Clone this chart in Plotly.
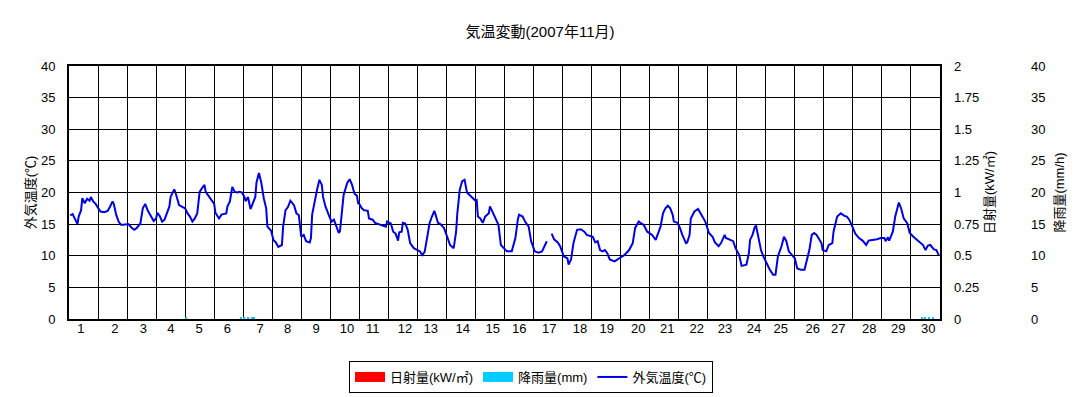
import plotly.graph_objects as go

# ---------------- data ----------------
title_text = "気温変動(2007年11月)"

# outdoor temperature, hour of month vs degC (None = missing)
temp_hours = [
    1, 3, 5, 7, 8, 10, 11, 13, 15, 17, 18, 20, 22, 26, 29, 32, 34, 36, 37, 39,
    41, 43, 45, 49, 52, 54, 56, 59, 61, 63, 65, 67, 70, 72, 73, 75, 77, 79, 81, 83,
    84, 87, 88, 90, 91, 94, 96, 98, 100, 102, 104, 106, 108, 110, 112, 113, 116, 118, 120, 121,
    124, 126, 128, 130, 131, 133, 135, 137, 139, 141, 143, 145, 146, 148, 150, 151, 154, 155, 157, 159,
    161, 163, 164, 167, 169, 171, 173, 176, 177, 179, 181, 183, 186, 188, 190, 192, 194, 196, 199, 200,
    201, 203, 205, 207, 209, 210, 212, 215, 217, 219, 221, 223, 224, 226, 227, 230, 232, 234, 236, 238,
    239, 240, 242, 244, 247, 248, 251, 253, 256, 259, 262, 263, 266, 268, 270, 272, 273, 275, 276, 278,
    280, 282, 285, 288, 290, 292, 294, 296, 298, 300, 302, 303, 305, 307, 310, 313, 315, 318, 320, 321,
    323, 325, 327, 329, 331, 333, 336, 337, 338, 340, 342, 344, 347, 348, 350, 353, 355, 357, 360, 362,
    366, 369, 371, 372, 375, 377, 380, 382, 385, 388, 391, 393, 395, 396, 399, 401, 404, 406, 409, 412,
    413, 415, 417, 420, 423, 426, 428, 433, 435, 437, 439, 441, 443, 445, 447, 451, 455, 459, 463, 466,
    468, 471, 473, 475, 478, 482, 485, 487, 489, 491, 493, 495, 497, 499, 500, 503, 505, 507, 510, 511,
    513, 514, 517, 520, 521, 523, 526, 529, 532, 534, 537, 539, 542, 543, 546, 549, 551, 554, 556, 560,
    562, 563, 565, 567, 568, 570, 572, 574, 577, 579, 582, 584, 586, 589, 591, 593, 595, 598, 600, 602,
    605, 608, 610, 612, 614, 616, 618, 620, 622, 623, 626, 628, 631, 632, 635, 638, 641, 643, 645, 648,
    650, 653, 656, 659, 661, 664, 668, 671, 674, 675, 677, 678, 681, 683, 686, 688, 690, 693, 695, 698,
    701, 703, 706, 708, 710, 712, 715, 717, 719,
]
temp_values = [
    16.4, 16.6, 15.8, 15.0, 16.2, 17.2, 19.1, 18.3, 19.0, 18.7, 19.3, 18.6, 18.2, 17.0, 16.9, 17.1, 17.8, 18.6, 18.2, 16.5,
    15.4, 14.9, 14.9, 15.0, 14.4, 14.1, 14.4, 15.1, 17.5, 18.2, 17.2, 16.6, 15.5, 15.9, 16.8, 16.3, 15.4, 15.7, 16.8, 17.8,
    19.3, 20.5, 20.0, 18.6, 18.0, 17.7, 17.5, 16.7, 16.2, 15.4, 15.9, 16.7, 20.1, 20.7, 21.2, 20.1, 19.3, 18.6, 18.2, 16.8,
    15.9, 16.5, 16.6, 16.7, 17.8, 18.6, 20.9, 20.1, 20.0, 20.1, 20.0, 19.3, 18.6, 19.3, 17.4, 17.8, 19.3, 21.6, 23.1, 21.5,
    19.1, 17.5, 14.6, 14.0, 12.5, 12.1, 11.4, 11.7, 14.6, 17.2, 17.7, 18.7, 18.0, 16.7, 16.4, 13.0, 13.3, 12.3, 12.1, 12.8,
    16.5, 18.6, 20.4, 22.0, 21.2, 19.3, 17.8, 16.3, 15.4, 15.7, 14.6, 13.6, 13.9, 18.3, 19.6, 21.5, 22.1, 21.2, 19.8, 19.5,
    18.3, 18.2, 17.5, 17.2, 17.1, 15.9, 15.7, 15.2, 15.0, 14.9, 14.6, 15.4, 15.1, 13.8, 13.5, 12.4, 13.7, 13.8, 15.2, 15.1,
    14.1, 12.0, 11.2, 10.9, 10.7, 10.1, 10.6, 12.8, 15.1, 16.2, 17.1, 16.5, 15.2, 15.0, 14.4, 12.8, 11.7, 11.2, 13.8, 16.7,
    20.4, 21.8, 22.0, 20.0, 19.6, 19.2, 18.7, 18.8, 16.2, 15.9, 15.2, 16.2, 16.7, 17.8, 17.0, 15.9, 14.9, 11.7, 11.0, 10.7,
    10.7, 12.8, 15.7, 16.5, 16.2, 15.4, 14.6, 12.3, 10.7, 10.5, 10.7, 11.5, 12.3, None, 13.5, 12.6, 12.1, 11.5, 9.9, 9.6,
    8.6, 9.4, 12.0, 14.1, 14.2, 13.8, 13.3, 13.0, 12.1, 12.3, 10.9, 10.7, 10.9, 10.4, 9.4, 9.1, 9.6, 10.1, 10.9, 12.0,
    14.4, 15.4, 15.1, 14.9, 13.8, 13.3, 12.5, 13.6, 14.6, 16.7, 17.5, 17.9, 17.5, 16.5, 15.4, 15.2, 14.4, 13.3, 12.0, 12.1,
    13.3, 15.9, 17.0, 17.4, 17.1, 16.5, 15.4, 13.6, 13.0, 12.1, 11.5, 12.0, 13.3, 12.8, 12.6, 12.3, 11.2, 10.1, 8.4, 8.6,
    10.4, 12.5, 13.3, 14.6, 14.7, 12.8, 10.9, 9.9, 8.6, 7.9, 7.0, 7.0, 9.9, 11.5, 13.0, 12.3, 10.7, 10.1, 9.6, 8.0,
    7.8, 7.8, 9.4, 10.9, 13.3, 13.6, 13.3, 12.6, 12.0, 10.9, 10.7, 11.7, 12.0, 13.8, 16.2, 16.7, 16.3, 16.2, 15.7, 14.4,
    13.5, 12.8, 12.4, 11.7, 12.4, 12.5, 12.6, 12.8, 12.8, 12.3, 12.9, 12.4, 13.8, 16.2, 18.4, 17.4, 15.9, 15.1, 13.6, 13.0,
    12.5, 12.3, 11.7, 10.9, 11.6, 11.7, 11.0, 10.9, 10.1,
]

# solar radiation (kW/m2): nothing recorded this month
radiation_hours = [0]
radiation_values = [0.0]

# rainfall (mm/h): only traces near the baseline
rain_hours = [97, 142, 145, 148, 151, 153, 705, 708, 711, 714]
rain_values = [0.3, 0.3, 0.3, 0.3, 0.3, 0.3, 0.3, 0.3, 0.3, 0.3]

# day labels and where they sit (hour of month)
day_labels = [str(d) for d in range(1, 31)]
day_label_hours = [
    9.9, 38.0, 61.4, 84.1, 107.5, 130.9, 157.9, 180.8, 204.2, 229.8,
    251.1, 277.8, 299.0, 325.5, 350.3, 372.2, 397.0, 422.4, 444.5, 470.6,
    494.6, 518.9, 542.3, 566.2, 588.3, 614.8, 635.9, 661.5, 685.5, 710.3,
]
day_boundaries = list(range(0, 721, 24))

# ---------------- figure ----------------
# the page body adds an 8px offset, so the figure is laid out 8px smaller
OFF = 8
FONT = "Liberation Sans, Noto Sans CJK JP, sans-serif"
W, H = 1082 - OFF, 397 - OFF
ML, MR, MT = 69 - OFF, 10, 66 - OFF
MB = H - (319 - OFF)
plot_w = W - ML - MR
plot_h = H - MT - MB
x_end = (940 - 69) / plot_w
y3_pos = (1027 - 69) / plot_w

RED = "#FF0000"
CYAN = "#00CCFF"
BLUE = "rgb(0,0,225)"

fig = go.Figure()
fig.add_trace(go.Bar(
    x=radiation_hours, y=radiation_values, name="日射量(kW/㎡)", showlegend=False,
    marker=dict(color=RED, line=dict(width=0)), xaxis="x2", yaxis="y2", width=1,
))
fig.add_trace(go.Bar(
    x=rain_hours, y=rain_values, name="降雨量(mm)", showlegend=False,
    marker=dict(color=CYAN, line=dict(width=0)), xaxis="x2", yaxis="y3", width=1,
))
fig.add_trace(go.Scatter(
    x=temp_hours, y=temp_values, name="外気温度(℃)", mode="lines", showlegend=False,
    line=dict(color=BLUE, width=2), connectgaps=False,
))
# legend entries (wide swatches like the original legend)
for nm, col, w in [("日射量(kW/㎡)", RED, 10), ("降雨量(mm)", CYAN, 10), ("外気温度(℃)", BLUE, 2)]:
    fig.add_trace(go.Scatter(x=[None], y=[None], name=nm, mode="lines",
                             line=dict(color=col, width=w), xaxis="x2", yaxis="y2"))

fig.update_layout(
    width=W, height=H,
    margin=dict(l=ML, r=MR, t=MT, b=MB, autoexpand=False),
    paper_bgcolor="white", plot_bgcolor="white",
    font=dict(family=FONT, size=13, color="#000000"),
    title=dict(text=title_text, x=(540 - OFF) / W, xref="container", xanchor="center",
               y=1 - (32 - OFF) / H, yref="container", yanchor="middle", automargin=False,
               font=dict(size=15, family=FONT)),
    showlegend=True,
    legend=dict(orientation="h", x=(531 - 69) / plot_w, xanchor="center",
                y=-(361 - 319) / plot_h, yanchor="top",
                bordercolor="#000000", borderwidth=1, bgcolor="white",
                font=dict(size=13, family=FONT), traceorder="normal",
                itemsizing="trace", itemwidth=30, tracegroupgap=0),
    barmode="overlay",
    xaxis=dict(domain=[0, x_end], range=[0, 720], tickvals=day_boundaries, automargin=False,
               showticklabels=False, ticks="", showgrid=True, gridcolor="#000000", gridwidth=1,
               showline=True, mirror=True, linecolor="#000000", linewidth=2, zeroline=False),
    xaxis2=dict(overlaying="x", anchor="y", side="bottom", range=[0, 720], automargin=False,
                tickvals=day_label_hours, ticktext=day_labels, ticks="",
                showgrid=False, showline=False, zeroline=False,
                tickfont=dict(size=13, family=FONT)),
    yaxis=dict(range=[0, 40], dtick=5, tick0=0, ticks="", showgrid=True, gridcolor="#000000",
               gridwidth=1, showline=True, mirror=True, linecolor="#000000", linewidth=2,
               zeroline=False, ticklabelstandoff=9, automargin=False,
               title=dict(text="外気温度(℃)", standoff=2, font=dict(size=13, family=FONT))),
    yaxis2=dict(overlaying="y", side="right", anchor="x", range=[0, 2], dtick=0.25, tick0=0,
                ticks="", showgrid=False, showline=False, zeroline=False, ticklabelstandoff=13,
                automargin=False,
                title=dict(text="日射量(kW/㎡)", standoff=6, font=dict(size=13, family=FONT))),
    yaxis3=dict(overlaying="y", side="right", anchor="free", position=y3_pos, range=[0, 40],
                dtick=5, tick0=0, ticks="", showgrid=False, showline=False, zeroline=False,
                ticklabelstandoff=3, automargin=False,
                title=dict(text="降雨量(mm/h)", standoff=10, font=dict(size=13, family=FONT))),
)

fig.write_html("out.html")
